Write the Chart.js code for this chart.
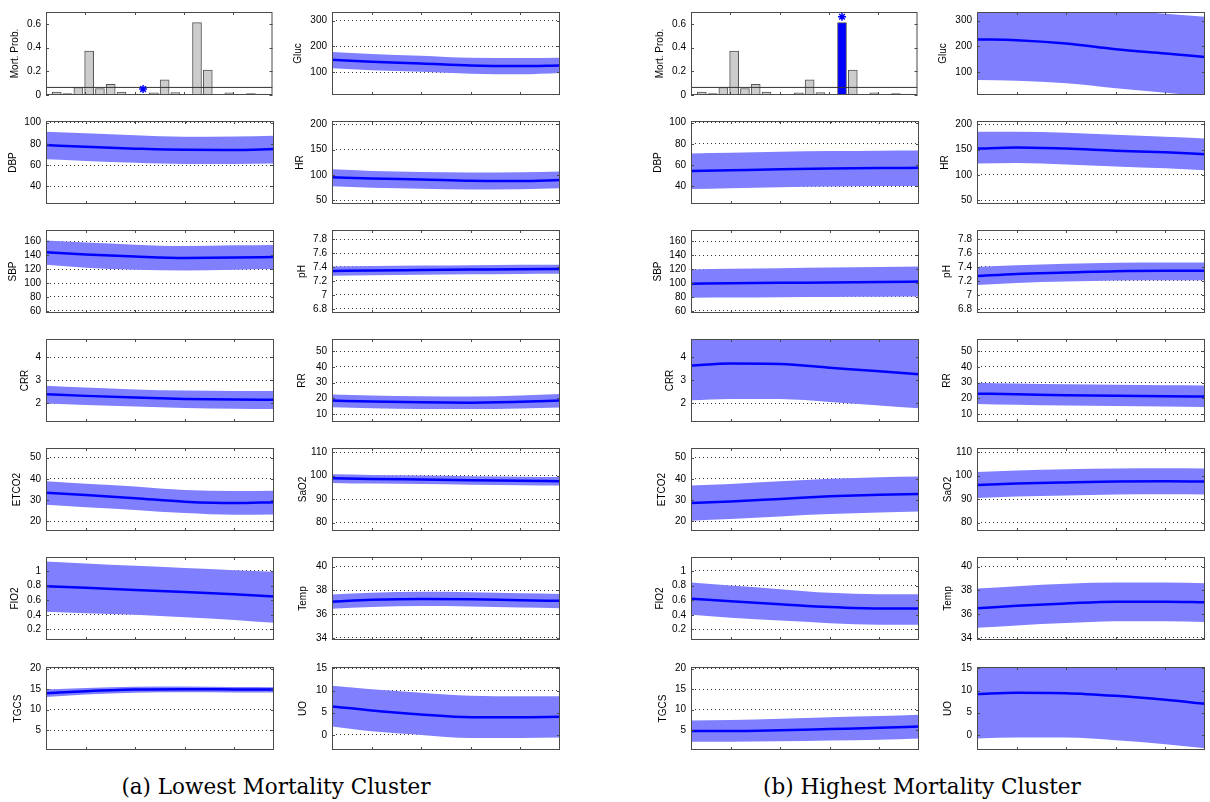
<!DOCTYPE html>
<html><head><meta charset="utf-8">
<script src="https://cdn.jsdelivr.net/npm/chart.js@4.4.1/dist/chart.umd.min.js"></script>
<style>
html,body{margin:0;padding:0;background:#fff;}
#wrap{position:relative;width:1210px;height:802px;overflow:hidden;background:#fff;}
#wrap canvas{position:absolute;}
.cap{position:absolute;font-family:'DejaVu Serif',serif;font-size:21.5px;line-height:24px;white-space:nowrap;text-align:center;width:500px;color:#000;}
</style></head><body><div id="wrap">
<div class="cap" style="left:26px;top:775px">(a) Lowest Mortality Cluster</div>
<div class="cap" style="left:672px;top:775px">(b) Highest Mortality Cluster</div>
</div>
<script>
// ---------- data ----------
const HOURS = [1, 5, 10, 15, 20, 24];
const HOUR_TICKS = [5, 10, 15, 20];
const CLUSTERS = [1,2,3,4,5,6,7,8,9,10,11,12,13,14,15,16,17,18,19,20];
const CLUSTER_RANGE = [0, 21];
const MORT_PROB = [0.025,0.013,0.063,0.37,0.055,0.09,0.025,0,0,0.018,0.128,0.02,0.005,0.61,0.21,0,0.018,0,0.012,0.007];
const MORT_THRESHOLD = 0.064;
const LOW_CLUSTER = 9, LOW_STAR = 0.05;
const HIGH_CLUSTER = 14, HIGH_STAR = 0.66;
const MORT_RANGE = [0, 0.7], MORT_TICKS = [0, 0.2, 0.4, 0.6];

const GLUC_RANGE = [12, 333], GLUC_TICKS = [100, 200, 300];
const DBP_RANGE = [23.5, 101.5], DBP_TICKS = [40, 60, 80, 100];
const HR_RANGE = [43, 206], HR_TICKS = [50, 100, 150, 200];
const SBP_RANGE = [57, 176], SBP_TICKS = [60, 80, 100, 120, 140, 160];
const PH_RANGE = [6.74, 7.93], PH_TICKS = [6.8, 7, 7.2, 7.4, 7.6, 7.8];
const CRR_RANGE = [1.19, 4.78], CRR_TICKS = [2, 3, 4];
const RR_RANGE = [5, 57.7], RR_TICKS = [10, 20, 30, 40, 50];
const ETCO2_RANGE = [15.3, 54.6], ETCO2_TICKS = [20, 30, 40, 50];
const SAO2_RANGE = [76.5, 111.7], SAO2_TICKS = [80, 90, 100, 110];
const FIO2_RANGE = [0.055, 1.19], FIO2_TICKS = [0.2, 0.4, 0.6, 0.8, 1];
const TEMP_RANGE = [33.83, 40.8], TEMP_TICKS = [34, 36, 38, 40];
const TGCS_RANGE = [0.2, 20.4], TGCS_TICKS = [5, 10, 15, 20];
const UO_RANGE = [-3.4, 15.3], UO_TICKS = [0, 5, 10, 15];

// (a) lowest mortality cluster
const A_DBP_MEAN = [78.9, 77.2, 75.5, 74.4, 74.3, 75.1];
const A_DBP_UP   = [91.5, 90, 88, 86.7, 87, 87.7];
const A_DBP_LO   = [65.5, 64, 62.3, 61.2, 61.2, 61.5];
const A_SBP_MEAN = [144.2, 141, 138, 136, 136.5, 137.3];
const A_SBP_UP   = [161, 158, 155, 153, 154, 154.5];
const A_SBP_LO   = [126, 122, 119, 118, 119, 120];
const A_CRR_MEAN = [2.39, 2.32, 2.25, 2.19, 2.16, 2.15];
const A_CRR_UP   = [2.76, 2.68, 2.6, 2.55, 2.53, 2.53];
const A_CRR_LO   = [1.99, 1.93, 1.86, 1.8, 1.76, 1.75];
const A_ETCO2_MEAN = [33.4, 32.3, 30.8, 29.2, 28.5, 28.9];
const A_ETCO2_UP   = [38.8, 37.7, 36.4, 34.7, 34.2, 34.3];
const A_ETCO2_LO   = [27.7, 26.6, 25.3, 23.8, 23.0, 23.1];
const A_FIO2_MEAN = [0.79, 0.77, 0.74, 0.71, 0.68, 0.65];
const A_FIO2_UP   = [1.13, 1.1, 1.07, 1.04, 1.01, 0.99];
const A_FIO2_LO   = [0.44, 0.42, 0.40, 0.365, 0.33, 0.29];
const A_TGCS_MEAN = [14.0, 14.5, 14.9, 15.0, 14.95, 14.9];
const A_TGCS_UP   = [14.9, 15.3, 15.6, 15.65, 15.55, 15.5];
const A_TGCS_LO   = [13.1, 13.7, 14.15, 14.25, 14.2, 14.2];
const A_GLUC_MEAN = [148, 141, 134, 126, 124, 126];
const A_GLUC_UP   = [178, 171, 164, 156, 155, 156];
const A_GLUC_LO   = [115, 108, 102, 94, 92, 97];
const A_HR_MEAN = [95.4, 93, 91, 88.5, 88, 90.3];
const A_HR_UP   = [111, 108, 106, 105, 105.5, 107];
const A_HR_LO   = [78, 75, 73, 71.5, 72, 74];
const A_PH_MEAN = [7.343, 7.35, 7.356, 7.362, 7.368, 7.371];
const A_PH_UP   = [7.405, 7.413, 7.42, 7.426, 7.43, 7.433];
const A_PH_LO   = [7.275, 7.283, 7.29, 7.296, 7.3, 7.303];
const A_RR_MEAN = [18.6, 18.0, 17.5, 17.3, 17.8, 18.6];
const A_RR_UP   = [22.5, 21.8, 21.3, 21.2, 21.8, 22.7];
const A_RR_LO   = [14.4, 13.8, 13.3, 13.2, 13.6, 14.2];
const A_SAO2_MEAN = [98.9, 98.6, 98.3, 98.0, 97.8, 97.6];
const A_SAO2_UP   = [100.6, 100.3, 100.0, 99.7, 99.5, 99.4];
const A_SAO2_LO   = [96.9, 96.6, 96.4, 96.1, 95.9, 95.8];
const A_TEMP_MEAN = [37.05, 37.2, 37.28, 37.25, 37.17, 37.12];
const A_TEMP_UP   = [37.65, 37.8, 37.88, 37.85, 37.76, 37.7];
const A_TEMP_LO   = [36.45, 36.6, 36.68, 36.65, 36.56, 36.5];
const A_UO_MEAN = [6.4, 5.5, 4.6, 4.0, 4.0, 4.1];
const A_UO_UP   = [11.1, 10.3, 9.5, 8.8, 8.7, 8.7];
const A_UO_LO   = [1.9, 0.8, 0.0, -0.7, -0.7, -0.6];

// (b) highest mortality cluster
const B_DBP_MEAN = [54.4, 55.2, 56.2, 56.9, 57.3, 57.5];
const B_DBP_UP   = [71, 71.7, 72.5, 73.2, 73.6, 73.7];
const B_DBP_LO   = [37.6, 38.4, 39.3, 40, 40.4, 40.5];
const B_SBP_MEAN = [99, 99.5, 100.2, 100.8, 101.5, 102];
const B_SBP_UP   = [119.4, 120.3, 121.3, 122.3, 123, 123.5];
const B_SBP_LO   = [79, 79.3, 79.7, 80, 80.3, 80.5];
const B_CRR_MEAN = [3.63, 3.72, 3.70, 3.54, 3.38, 3.26];
const B_CRR_UP   = [5.13, 5.25, 5.22, 5.02, 4.9, 4.8];
const B_CRR_LO   = [2.13, 2.19, 2.18, 2.06, 1.9, 1.78];
const B_ETCO2_MEAN = [28.5, 29.3, 30.5, 31.7, 32.5, 32.8];
const B_ETCO2_UP   = [36.8, 37.6, 38.8, 40, 40.8, 41.1];
const B_ETCO2_LO   = [20.2, 21, 22.2, 23.3, 24.1, 24.5];
const B_FIO2_MEAN = [0.62, 0.585, 0.545, 0.505, 0.485, 0.485];
const B_FIO2_UP   = [0.84, 0.80, 0.75, 0.70, 0.68, 0.68];
const B_FIO2_LO   = [0.40, 0.36, 0.32, 0.285, 0.265, 0.265];
const B_TGCS_MEAN = [4.8, 4.8, 5.0, 5.3, 5.6, 5.9];
const B_TGCS_UP   = [7.4, 7.5, 7.8, 8.2, 8.5, 8.8];
const B_TGCS_LO   = [2.2, 2.2, 2.3, 2.5, 2.7, 3.0];
const B_GLUC_MEAN = [227, 224, 211, 189, 172.6, 159];
const B_GLUC_UP   = [385, 380, 368, 345, 326, 315];
const B_GLUC_LO   = [70, 67, 57, 38, 21, 8];
const B_HR_MEAN = [151.8, 154, 151.8, 147.6, 144.5, 140.6];
const B_HR_UP   = [184.7, 185, 183, 179, 175, 171.6];
const B_HR_LO   = [122.4, 123.5, 120.7, 116.5, 113, 109.4];
const B_PH_MEAN = [7.27, 7.3, 7.32, 7.34, 7.345, 7.344];
const B_PH_UP   = [7.40, 7.425, 7.445, 7.46, 7.465, 7.465];
const B_PH_LO   = [7.14, 7.17, 7.19, 7.205, 7.21, 7.21];
const B_RR_MEAN = [23, 22.6, 22, 21.6, 21.3, 21.2];
const B_RR_UP   = [30, 29.5, 29, 28.6, 28.3, 28.2];
const B_RR_LO   = [16.5, 16, 15.5, 15.1, 14.8, 14.6];
const B_SAO2_MEAN = [96, 96.6, 97.1, 97.5, 97.6, 97.5];
const B_SAO2_UP   = [101.5, 102.2, 102.7, 103, 103.1, 103];
const B_SAO2_LO   = [90.5, 91.1, 91.6, 92, 92.1, 92];
const B_TEMP_MEAN = [36.5, 36.7, 36.9, 37.05, 37.05, 37.0];
const B_TEMP_UP   = [38.15, 38.35, 38.55, 38.65, 38.65, 38.6];
const B_TEMP_LO   = [34.85, 35.05, 35.25, 35.4, 35.4, 35.35];
const B_UO_MEAN = [9.2, 9.5, 9.4, 8.8, 7.9, 7.0];
const B_UO_UP   = [19.2, 19.5, 19.4, 18.6, 17.5, 16.6];
const B_UO_LO   = [-0.8, -0.6, -0.6, -1.2, -2.1, -3.0];

// ---------- layout / style ----------
const COL_X = [46, 332, 691, 977];
const ROW_Y = [5, 114, 223, 332, 441, 550, 660];
const AXW = 46, PAD = 4, PW = 228, PH = 97;
const BAND = 'rgb(128,128,255)';
const TICK_FONT = {family: "'Liberation Sans Narrow','Liberation Sans',Arial,sans-serif", size: 10};
Chart.defaults.font.family = "'Liberation Sans',Arial,sans-serif";
Chart.defaults.font.size = 10;
Chart.defaults.color = '#000';

const wrap = document.getElementById('wrap');

const framePlugin = {
  id: 'frame',
  afterDraw(chart, args, opts) {
    const {ctx, chartArea: a} = chart;
    ctx.save();
    ctx.strokeStyle = '#4a4a4a';
    ctx.lineWidth = 1;
    ctx.setLineDash([]);
    ctx.beginPath();
    (opts.xticks || []).forEach(v => {
      const px = Math.round(chart.scales.x.getPixelForValue(v)) + 0.5;
      ctx.moveTo(px, a.top); ctx.lineTo(px, a.top + 3);
      ctx.moveTo(px, a.bottom); ctx.lineTo(px, a.bottom - 3);
    });
    (opts.yticks || []).forEach(v => {
      const py = Math.round(chart.scales.y.getPixelForValue(v)) + 0.5;
      ctx.moveTo(a.left, py); ctx.lineTo(a.left + 3, py);
      ctx.moveTo(a.right, py); ctx.lineTo(a.right - 3, py);
    });
    ctx.stroke();
    ctx.strokeRect(a.left + 0.5, a.top + 0.5, a.right - a.left - 1, a.bottom - a.top - 1);
    ctx.restore();
  }
};

function makeCanvas(pl, pt) {
  const cv = document.createElement('canvas');
  cv.width = AXW + PW + PAD; cv.height = PH + 2 * PAD;
  cv.style.left = (pl - AXW) + 'px';
  cv.style.top = (pt - PAD) + 'px';
  cv.style.width = cv.width + 'px'; cv.style.height = cv.height + 'px';
  wrap.appendChild(cv);
  return cv;
}

function yScale(range, ticks, title, titleOff, grid) {
  return {
    type: 'linear', min: range[0], max: range[1], z: 1,
    afterFit: s => { s.width = AXW; },
    afterBuildTicks: s => { s.ticks = ticks.map(v => ({value: v})); },
    ticks: {padding: 5, font: TICK_FONT, autoSkip: false, callback: v => String(v)},
    grid: {display: grid, drawTicks: false, color: '#333', lineWidth: 1},
    border: {display: false, dash: [1, 3]},
    title: {display: true, text: title, padding: {top: AXW - titleOff - 6, bottom: 0}, font: {size: 10}}
  };
}

function linePanel(pl, pt, title, titleOff, range, ticks, mean, up, lo) {
  const cv = makeCanvas(pl, pt);
  const pts = arr => HOURS.map((h, i) => ({x: h, y: arr[i]}));
  const common = {pointRadius: 0, cubicInterpolationMode: 'monotone', clip: 0};
  new Chart(cv, {
    type: 'line',
    data: {datasets: [
      Object.assign({data: pts(up), fill: '+1', backgroundColor: BAND, borderWidth: 0, borderColor: BAND, order: 2}, common),
      Object.assign({data: pts(lo), fill: false, borderWidth: 0, borderColor: BAND, order: 2}, common),
      Object.assign({data: pts(mean), fill: false, borderColor: '#0000ff', borderWidth: 2.5, order: 0}, common)
    ]},
    options: {
      responsive: false, animation: false, devicePixelRatio: 1, events: [],
      layout: {padding: {left: 0, right: PAD, top: PAD, bottom: PAD}},
      plugins: {legend: {display: false}, tooltip: {enabled: false}, frame: {xticks: HOUR_TICKS, yticks: ticks}},
      scales: {
        x: {type: 'linear', min: HOURS[0], max: HOURS[HOURS.length - 1], display: false},
        y: yScale(range, ticks, title, titleOff, true)
      }
    },
    plugins: [framePlugin]
  });
}

function barPanel(pl, pt, highlight, starX, starY) {
  const cv = makeCanvas(pl, pt);
  const span = HOURS[HOURS.length - 1] - HOURS[0];
  const xt = HOUR_TICKS.map(t => CLUSTER_RANGE[0] + (t - HOURS[0]) / span * (CLUSTER_RANGE[1] - CLUSTER_RANGE[0]));
  new Chart(cv, {
    type: 'bar',
    data: {datasets: [
      {type: 'bar', data: CLUSTERS.map((c, i) => ({x: c, y: MORT_PROB[i]})),
       backgroundColor: CLUSTERS.map(c => c === highlight ? '#0000ff' : '#cccccc'),
       borderColor: '#555', borderWidth: 1, borderSkipped: false, barThickness: 9, order: 2},
      {type: 'line', data: [{x: CLUSTER_RANGE[0], y: MORT_THRESHOLD}, {x: CLUSTER_RANGE[1], y: MORT_THRESHOLD}],
       borderColor: '#333', borderWidth: 1, pointRadius: 0, fill: false, order: 1},
      {type: 'line', data: [{x: starX, y: starY}], showLine: false, pointStyle: 'star', pointRadius: 4,
       borderColor: '#0000ff', backgroundColor: '#0000ff', borderWidth: 1.5, order: 0}
    ]},
    options: {
      responsive: false, animation: false, devicePixelRatio: 1, events: [],
      layout: {padding: {left: 0, right: PAD, top: PAD, bottom: PAD}},
      plugins: {legend: {display: false}, tooltip: {enabled: false}, frame: {xticks: xt, yticks: MORT_TICKS}},
      scales: {
        x: {type: 'linear', min: CLUSTER_RANGE[0], max: CLUSTER_RANGE[1], offset: false, display: false},
        y: yScale(MORT_RANGE, MORT_TICKS, 'Mort. Prob.', 31, false)
      }
    },
    plugins: [framePlugin]
  });
}

// ---------- build ----------
barPanel(COL_X[0], ROW_Y[0], -1, LOW_CLUSTER, LOW_STAR);
barPanel(COL_X[2], ROW_Y[0], HIGH_CLUSTER, HIGH_CLUSTER, HIGH_STAR);

const groups = [
  {c1: COL_X[0], c2: COL_X[1], d: {
    DBP: [A_DBP_MEAN, A_DBP_UP, A_DBP_LO], SBP: [A_SBP_MEAN, A_SBP_UP, A_SBP_LO], CRR: [A_CRR_MEAN, A_CRR_UP, A_CRR_LO],
    ETCO2: [A_ETCO2_MEAN, A_ETCO2_UP, A_ETCO2_LO], FIO2: [A_FIO2_MEAN, A_FIO2_UP, A_FIO2_LO], TGCS: [A_TGCS_MEAN, A_TGCS_UP, A_TGCS_LO],
    Gluc: [A_GLUC_MEAN, A_GLUC_UP, A_GLUC_LO], HR: [A_HR_MEAN, A_HR_UP, A_HR_LO], pH: [A_PH_MEAN, A_PH_UP, A_PH_LO],
    RR: [A_RR_MEAN, A_RR_UP, A_RR_LO], SaO2: [A_SAO2_MEAN, A_SAO2_UP, A_SAO2_LO], Temp: [A_TEMP_MEAN, A_TEMP_UP, A_TEMP_LO],
    UO: [A_UO_MEAN, A_UO_UP, A_UO_LO]}},
  {c1: COL_X[2], c2: COL_X[3], d: {
    DBP: [B_DBP_MEAN, B_DBP_UP, B_DBP_LO], SBP: [B_SBP_MEAN, B_SBP_UP, B_SBP_LO], CRR: [B_CRR_MEAN, B_CRR_UP, B_CRR_LO],
    ETCO2: [B_ETCO2_MEAN, B_ETCO2_UP, B_ETCO2_LO], FIO2: [B_FIO2_MEAN, B_FIO2_UP, B_FIO2_LO], TGCS: [B_TGCS_MEAN, B_TGCS_UP, B_TGCS_LO],
    Gluc: [B_GLUC_MEAN, B_GLUC_UP, B_GLUC_LO], HR: [B_HR_MEAN, B_HR_UP, B_HR_LO], pH: [B_PH_MEAN, B_PH_UP, B_PH_LO],
    RR: [B_RR_MEAN, B_RR_UP, B_RR_LO], SaO2: [B_SAO2_MEAN, B_SAO2_UP, B_SAO2_LO], Temp: [B_TEMP_MEAN, B_TEMP_UP, B_TEMP_LO],
    UO: [B_UO_MEAN, B_UO_UP, B_UO_LO]}}
];

// [name, row, column(1|2), title offset, range, ticks]
const LAYOUT = [
  ['DBP', 1, 1, 33, DBP_RANGE, DBP_TICKS], ['SBP', 2, 1, 33, SBP_RANGE, SBP_TICKS],
  ['CRR', 3, 1, 21, CRR_RANGE, CRR_TICKS], ['ETCO2', 4, 1, 29, ETCO2_RANGE, ETCO2_TICKS],
  ['FIO2', 5, 1, 31, FIO2_RANGE, FIO2_TICKS], ['TGCS', 6, 1, 28, TGCS_RANGE, TGCS_TICKS],
  ['Gluc', 0, 2, 34, GLUC_RANGE, GLUC_TICKS], ['HR', 1, 2, 32, HR_RANGE, HR_TICKS],
  ['pH', 2, 2, 30, PH_RANGE, PH_TICKS], ['RR', 3, 2, 30, RR_RANGE, RR_TICKS],
  ['SaO2', 4, 2, 29, SAO2_RANGE, SAO2_TICKS], ['Temp', 5, 2, 29, TEMP_RANGE, TEMP_TICKS],
  ['UO', 6, 2, 29, UO_RANGE, UO_TICKS]
];

groups.forEach(g => {
  LAYOUT.forEach(([name, row, col, off, range, ticks]) => {
    const s = g.d[name];
    linePanel(col === 1 ? g.c1 : g.c2, ROW_Y[row], name, off, range, ticks, s[0], s[1], s[2]);
  });
});
</script>
</body></html>
